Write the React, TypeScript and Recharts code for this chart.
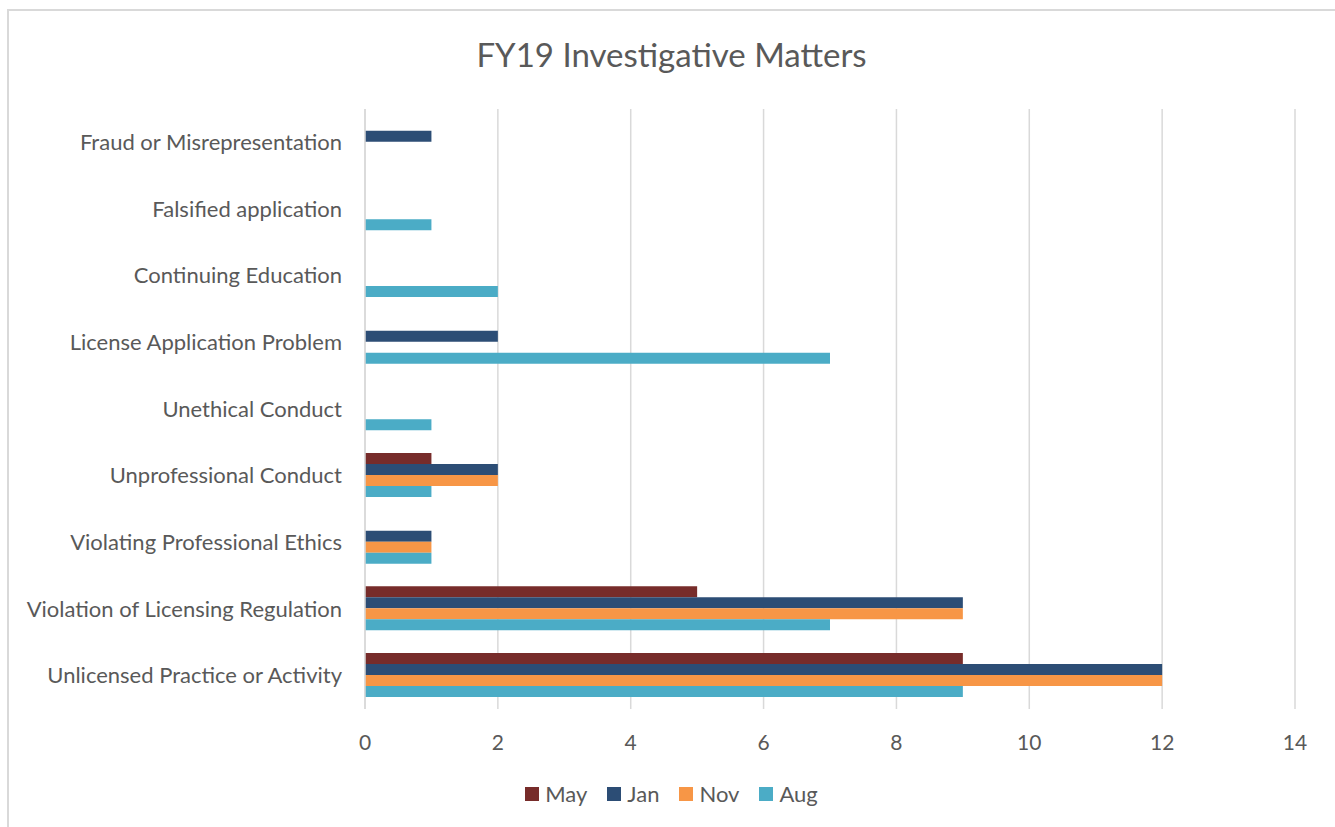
import { Bar, BarChart, CartesianGrid, XAxis, YAxis } from "recharts";

const categories = [
  "Fraud or Misrepresentation",
  "Falsified application",
  "Continuing Education",
  "License Application Problem",
  "Unethical Conduct",
  "Unprofessional Conduct",
  "Violating Professional Ethics",
  "Violation of Licensing Regulation",
  "Unlicensed Practice or Activity",
];

const may = [0, 0, 0, 0, 0, 1, 0, 5, 9];
const jan = [1, 0, 0, 2, 0, 2, 1, 9, 12];
const nov = [0, 0, 0, 0, 0, 2, 1, 9, 12];
const aug = [0, 1, 2, 7, 1, 1, 1, 7, 9];

const xTicks = [0, 2, 4, 6, 8, 10, 12, 14];

const series = [
  { key: "May", color: "#772c2a" },
  { key: "Jan", color: "#2c4d75" },
  { key: "Nov", color: "#f79646" },
  { key: "Aug", color: "#4bacc6" },
];

const data = categories.map((name, i) => ({
  name,
  May: may[i],
  Jan: jan[i],
  Nov: nov[i],
  Aug: aug[i],
}));

const FONT = "Lato, 'Open Sans', sans-serif";
const TEXT = "#595959";
const GRID = "#d9d9d9";

export default function App() {
  return (
    <div
      style={{
        position: "absolute",
        left: 0,
        top: 0,
        width: 1335,
        height: 827,
        overflow: "hidden",
        background: "#fff",
        fontFamily: FONT,
      }}
    >
      <div
        style={{
          position: "absolute",
          left: 7,
          top: 9,
          width: 1360,
          height: 860,
          border: `2px solid ${GRID}`,
        }}
      />
      <div
        style={{
          position: "absolute",
          left: 0,
          width: 1343,
          top: 34,
          textAlign: "center",
          fontSize: 33,
          color: TEXT,
        }}
      >
        FY19 Investigative Matters
      </div>
      <div style={{ position: "absolute", left: 0, top: 0 }}>
        <BarChart
          width={1335}
          height={827}
          data={data}
          layout="vertical"
          margin={{ top: 109, right: 40, left: 0, bottom: 68 }}
          barCategoryGap="16%"
          barGap={0}
        >
          <CartesianGrid horizontal={false} stroke={GRID} strokeWidth={1.5} />
          <XAxis
            type="number"
            domain={[0, 14]}
            ticks={xTicks}
            axisLine={false}
            tickLine={false}
            tickMargin={20}
            height={50}
            tick={{ fill: TEXT, fontSize: 21, fontFamily: FONT }}
          />
          <YAxis
            type="category"
            dataKey="name"
            width={365}
            axisLine={{ stroke: GRID, strokeWidth: 1.5 }}
            tickLine={false}
            tickMargin={17}
            interval={0}
            tick={{ fill: TEXT, fontSize: 22, fontFamily: FONT }}
          />
          {series.map((s) => (
            <Bar key={s.key} dataKey={s.key} fill={s.color} isAnimationActive={false} />
          ))}
        </BarChart>
      </div>
      <div
        style={{
          position: "absolute",
          left: 0,
          width: 1343,
          top: 780,
          display: "flex",
          justifyContent: "center",
          gap: 20,
          fontSize: 22,
          color: TEXT,
        }}
      >
        {series.map((s) => (
          <div key={s.key} style={{ display: "flex", alignItems: "center", gap: 6 }}>
            <span style={{ width: 14, height: 14, background: s.color, display: "inline-block" }} />
            <span>{s.key}</span>
          </div>
        ))}
      </div>
    </div>
  );
}
